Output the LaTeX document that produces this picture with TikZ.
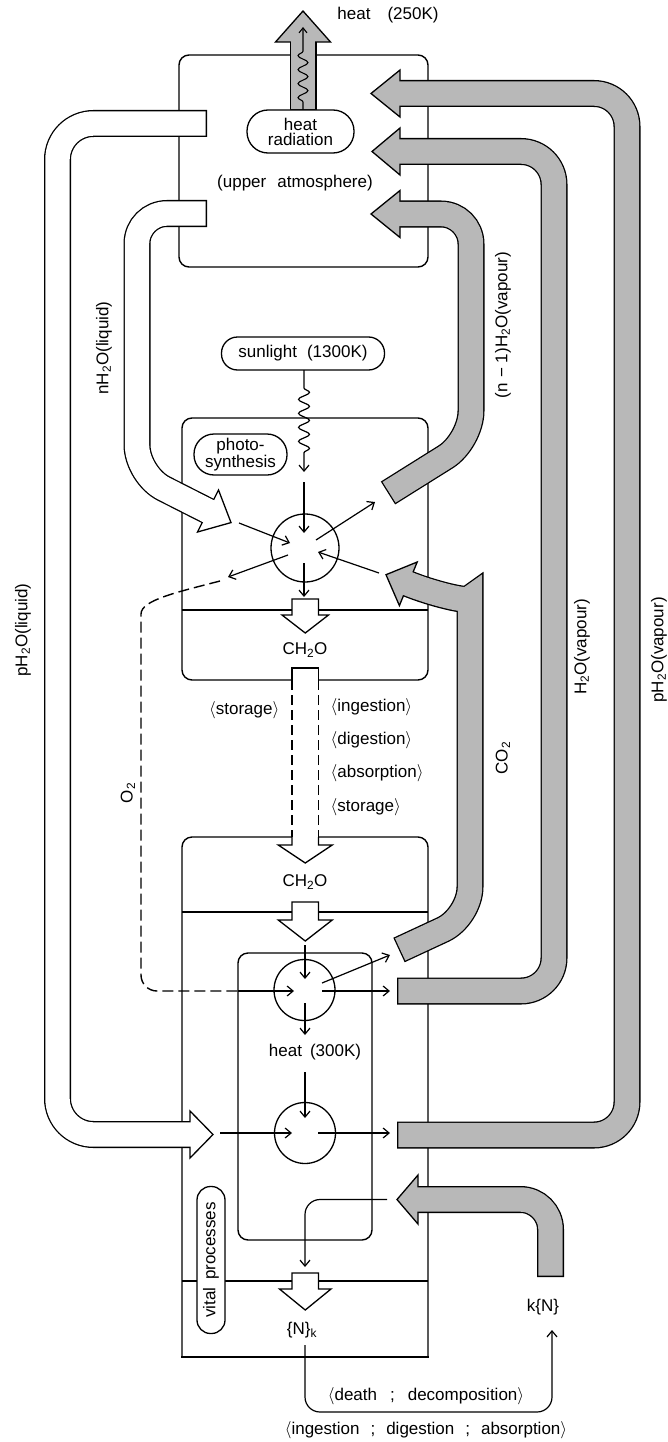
\documentclass[tikz,border=0pt]{standalone}
\usepackage{fontspec}
\setmainfont{Liberation Sans}
\usetikzlibrary{arrows.meta,decorations.pathmorphing}
\definecolor{fatgray}{gray}{0.72}
\newcommand{\ab}[1]{$\langle$#1$\rangle$}
\newcommand{\sbs}[1]{\textsubscript{#1}}
\newcommand{\wsp}[1][10pt]{\hspace{#1}}
% #1 fill colour, #2 corner radius, #3 shaft path (tail -> head base), #4 head polygon
\newcommand{\fatarrow}[4]{%
  \draw[line width=27pt, black, rounded corners=#2] #3;
  \filldraw[fill=#1, draw=black, line width=1.3pt, line join=miter] #4 -- cycle;
  \draw[line width=24.4pt, draw=#1, rounded corners=#2, shorten <=1.3pt, shorten >=-1.6pt] #3;
}
\tikzset{
  lbl/.style={inner sep=0pt, font=\fontsize{17}{16}\selectfont},
  boxline/.style={draw, line width=1.4pt, inner sep=0pt},
  pill/.style={draw, line width=1.3pt, rectangle, fill=white, inner sep=0pt, align=center, font=\fontsize{17}{16}\selectfont},
  thinarrow/.style={line width=1.2pt, -{Straight Barb[length=6pt,width=10pt]}},
  o2dash/.style={line width=1.4pt, dash pattern=on 11pt off 5pt},
  proc/.style={draw, circle, line width=1.3pt, inner sep=0pt},
  whitearrow/.style={fill=white, draw=black, line width=1.3pt, line join=miter},
}
\begin{document}
\begin{tikzpicture}[x=1pt,y=-1pt]
\useasboundingbox (0,0) rectangle (668,1442);

% ---------------- boxes
\node[boxline, rounded corners=10pt, minimum width=249pt, minimum height=212pt] (ua) at (303.5,161) {};
\node[boxline, rounded corners=10pt, minimum width=246pt, minimum height=262pt] (ps) at (305,549) {};
\coordinate (psdL) at (182,610); \coordinate (psdR) at (428,610);
\draw[line width=1.3pt] (psdL) -- (psdR);
% vital box: rounded top, square bottom
\coordinate (vbBL) at (182,1357); \coordinate (vbTL) at (182,837);
\coordinate (vbTR) at (428,837); \coordinate (vbBR) at (428,1357);
\draw[line width=1.4pt, rounded corners=10pt] (vbBL) -- (vbTL) -- (vbTR) -- (vbBR);
\draw[line width=1.4pt, line cap=rect] (vbBL) -- (vbBR);
\coordinate (vd1L) at (182,912); \coordinate (vd1R) at (428,912);
\coordinate (vd2L) at (182,1281); \coordinate (vd2R) at (428,1281);
\draw[line width=1.3pt] (vd1L) -- (vd1R);
\draw[line width=1.3pt] (vd2L) -- (vd2R);
\node[boxline, rounded corners=10pt, minimum width=134pt, minimum height=287pt] (mb) at (305,1096.5) {};

% ---------------- fat gray arrows
\coordinate (g1a) at (397,1135); \coordinate (g1b) at (627,1135);
\coordinate (g1c) at (627,93.5); \coordinate (g1d) at (400,93.5);
\fatarrow{fatgray}{33pt}{(g1a) -- (g1b) -- (g1c) -- (g1d)}{(400,70) -- (371,93.5) -- (400,117)}

\coordinate (g2a) at (397,991); \coordinate (g2b) at (554,991);
\coordinate (g2c) at (554,151.5); \coordinate (g2d) at (400,151.5);
\fatarrow{fatgray}{33pt}{(g2a) -- (g2b) -- (g2c) -- (g2d)}{(400,128) -- (372,151.5) -- (400,175)}

\coordinate (g3a) at (388,493); \coordinate (g3b) at (471,441);
\coordinate (g3c) at (471,214); \coordinate (g3d) at (400,214);
\fatarrow{fatgray}{30pt}{(g3a) -- (g3b) -- (g3c) -- (g3d)}{(400,190.5) -- (371,214) -- (400,237.5)}

\coordinate (co2a) at (399,950); \coordinate (co2b) at (470,917);
\coordinate (co2c) at (470,628); \coordinate (co2d) at (408.3,583.8);
\fatarrow{fatgray}{30pt}{(co2a) -- (co2b) -- (co2c) .. controls (470,603) and (431.5,593.3) .. (co2d)}{(417.2,562.0) -- (386,574.7) -- (399.4,605.6)}

\coordinate (gka) at (550.5,1277); \coordinate (gkb) at (550.5,1199.5);
\coordinate (gkc) at (418,1199.5);
\fatarrow{fatgray}{30pt}{(gka) -- (gkb) -- (gkc)}{(418,1175) -- (397,1199.5) -- (418,1224)}

\coordinate (hta) at (303,110); \coordinate (htb) at (303,42);
\fatarrow{fatgray}{0pt}{(hta) -- (htb)}{(275.5,42) -- (303,11) -- (330.5,42)}

% ---------------- fat white arrows
\coordinate (w1a) at (207,123.5); \coordinate (w1b) at (57.5,123.5);
\coordinate (w1c) at (57.5,1134.5); \coordinate (w1d) at (190,1134.5);
\fatarrow{white}{36pt}{(w1a) -- (w1b) -- (w1c) -- (w1d)}{(190,1111) -- (213,1134.5) -- (190,1158)}

\coordinate (w2a) at (207,213.5); \coordinate (w2b) at (137,213.5);
\coordinate (w2c) at (137,475); \coordinate (w2d) at (208,511);
\fatarrow{white}{30pt}{(w2a) -- (w2b) -- (w2c) -- (w2d)}{(218.5,490) -- (231,522.6) -- (197.5,532)}

% ---------------- small white arrows
\draw[whitearrow] (292,599) -- (318.5,599) -- (318.5,615) -- (328.5,615) -- (305.25,633) -- (282,615) -- (292,615) -- cycle;
\draw[whitearrow] (292,902) -- (318.5,902) -- (318.5,920) -- (332.25,920) -- (305.25,941) -- (278.25,920) -- (292,920) -- cycle;
\draw[whitearrow] (292,1273) -- (318.5,1273) -- (318.5,1289) -- (331,1289) -- (305.25,1310) -- (279.5,1289) -- (292,1289) -- cycle;

% big dashed transfer arrow
\fill[white] (292,668) -- (318.5,668) -- (318.5,845) -- (332.25,845) -- (305.25,863) -- (278.25,845) -- (292,845) -- cycle;
\draw[line width=1.3pt] (292,680) -- (292,668) -- (318.5,668) -- (318.5,680);
\draw[line width=1.3pt, dash pattern=on 10pt off 5pt] (292,680) -- (292,837) (318.5,680) -- (318.5,837);
\draw[line width=1.3pt, line join=miter] (292,837) -- (292,845) -- (278.25,845) -- (305.25,863) -- (332.25,845) -- (318.5,845) -- (318.5,837);

% ---------------- pills
\node[pill, rounded corners=21pt, minimum width=107pt, minimum height=43pt, font=\fontsize{17}{15}\selectfont] (heatrad) at (300.5,131.5) {heat\\radiation};
\node[pill, rounded corners=16pt, minimum width=163pt, minimum height=33pt] (sun) at (303,353.5) {sunlight\wsp[10pt](1300K)};
\node[pill, rounded corners=20pt, minimum width=93pt, minimum height=41pt, font=\fontsize{17}{17.5}\selectfont] (photo) at (240.5,454.5) {photo-\\synthesis};
\node[pill, rounded corners=13.5pt, rotate=90, minimum width=147pt, minimum height=28pt] (vital) at (211,1260) {vital\wsp[8pt]processes};

% ---------------- process circles
\node[proc, minimum size=68pt] (c1) at (305,548) {};
\node[proc, minimum size=61pt] (c2) at (304.5,990) {};
\node[proc, minimum size=61pt] (c3) at (305,1133) {};

% ---------------- wavy radiation lines
\coordinate (hwa) at (303,110); \coordinate (hwb) at (303,27);
\draw[line width=1.1pt, decorate, decoration={snake, amplitude=5pt, segment length=14pt, pre length=8pt, post length=20pt}, -{Straight Barb[length=5pt,width=8pt]}] (hwa) -- (hwb);
\coordinate (swa) at (304,370); \coordinate (swb) at (304,472);
\draw[line width=1.2pt, decorate, decoration={snake, amplitude=5.5pt, segment length=14pt, pre length=18pt, post length=19pt}, -{Straight Barb[length=6pt,width=10pt]}] (swa) -- (swb);

% ---------------- thin arrows, photosynthesis
\coordinate (p1a) at (304,482); \coordinate (p1b) at (304,533);
\coordinate (p2a) at (239,523); \coordinate (p2b) at (290,543);
\coordinate (p3a) at (316,540); \coordinate (p3b) at (375,502);
\coordinate (p4a) at (288,555); \coordinate (p4b) at (228,577);
\coordinate (p5a) at (379,573); \coordinate (p5b) at (318,552);
\coordinate (p6a) at (304,563); \coordinate (p6b) at (304,597);
\draw[thinarrow] (p1a) -- (p1b);
\draw[thinarrow] (p2a) -- (p2b);
\draw[thinarrow] (p3a) -- (p3b);
\draw[thinarrow] (p4a) -- (p4b);
\draw[thinarrow] (p5a) -- (p5b);
\draw[thinarrow] (p6a) -- (p6b);

% ---------------- thin arrows, respiration
\coordinate (m1a) at (305,945); \coordinate (m1b) at (305,979);
\coordinate (m2a) at (322,983); \coordinate (m2b) at (390,955);
\coordinate (m3a) at (322,991); \coordinate (m3b) at (390,991);
\coordinate (m4a) at (305,1003); \coordinate (m4b) at (305,1035);
\coordinate (m5a) at (305,1072); \coordinate (m5b) at (305,1118);
\coordinate (m6a) at (220,1133); \coordinate (m6b) at (292,1133);
\coordinate (m7a) at (318,1133); \coordinate (m7b) at (390,1133);
\draw[thinarrow] (m1a) -- (m1b);
\draw[thinarrow] (m2a) -- (m2b);
\draw[thinarrow] (m3a) -- (m3b);
\draw[thinarrow] (m4a) -- (m4b);
\draw[thinarrow] (m5a) -- (m5b);
\draw[thinarrow] (m6a) -- (m6b);
\draw[thinarrow] (m7a) -- (m7b);

% O2 dashed path
\coordinate (o2s) at (220,581); \coordinate (o2m) at (238,991); \coordinate (o2e) at (294,991);
\draw[o2dash, rounded corners=16pt] (o2s) .. controls (178,592) and (141,600) .. (141,630) -- (141,991) -- (o2m);
\draw[thinarrow] (o2m) -- (o2e);

% k{N} return line and decomposition loop
\coordinate (kla) at (387,1199.5); \coordinate (klb) at (305,1267);
\draw[thinarrow, rounded corners=15pt] (kla) -- (305,1199.5) -- (klb);
\coordinate (dla) at (305,1345); \coordinate (dlb) at (552,1330);
\draw[thinarrow, rounded corners=15pt] (dla) -- (305,1412) -- (552,1412) -- (dlb);

% ---------------- labels
\node[lbl] (heat250) at (388,15) {heat\wsp[17pt](250K)};
\node[lbl] (upper) at (295,183) {(upper\wsp[11pt]atmosphere)};
\node[lbl] (ch2oA) at (305,650) {CH\sbs{2}O};
\node[lbl] (ch2oB) at (305,882) {CH\sbs{2}O};
\node[lbl, anchor=east] (storL) at (279.5,710) {\ab{storage}};
\node[lbl, anchor=west] (ingR) at (330.5,707) {\ab{ingestion}};
\node[lbl, anchor=west] (digR) at (330.5,740) {\ab{digestion}};
\node[lbl, anchor=west] (absR) at (330.5,773) {\ab{absorption}};
\node[lbl, anchor=west] (stoR) at (330.5,807) {\ab{storage}};
\node[lbl] (heat300) at (315,1052) {heat\wsp[8pt](300K)};
\node[lbl] (Nk) at (302,1330) {\{N\}\sbs{k}};
\node[lbl] (kN) at (543,1307) {k\{N\}};
\node[lbl] (death) at (426,1396) {\ab{death\wsp[13pt];\wsp[13pt]decomposition}};
\node[lbl] (ingest) at (426,1430) {\ab{ingestion\wsp[11pt];\wsp[11pt]digestion\wsp[11pt];\wsp[11pt]absorption}};

\node[lbl, rotate=90] (nliq) at (104,348) {nH\sbs{2}O(liquid)};
\node[lbl, rotate=90] (nvap) at (503,325) {(n\wsp[5pt]−\wsp[5pt]1)H\sbs{2}O(vapour)};
\node[lbl, rotate=90] (pliq) at (23,630) {pH\sbs{2}O(liquid)};
\node[lbl, rotate=90] (o2) at (128,793) {O\sbs{2}};
\node[lbl, rotate=90] (co2) at (503,758) {CO\sbs{2}};
\node[lbl, rotate=90] (hvap) at (582,647) {H\sbs{2}O(vapour)};
\node[lbl, rotate=90] (pvap) at (659,650) {pH\sbs{2}O(vapour)};
\end{tikzpicture}
\end{document}
